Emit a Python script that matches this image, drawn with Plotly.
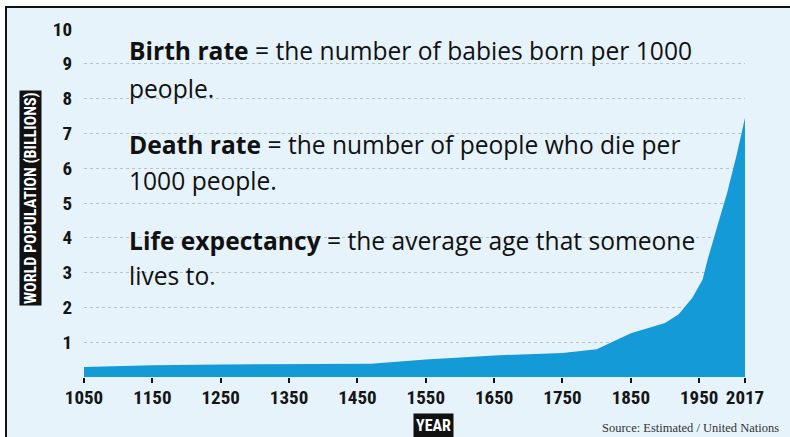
import plotly.graph_objects as go

# World population estimates (billions) by year
years = [1050, 1150, 1250, 1350, 1450, 1470, 1550, 1650, 1750, 1800,
         1850, 1900, 1920, 1940, 1955, 1962, 1976, 1991, 2005, 2017]
population = [0.29, 0.34, 0.36, 0.37, 0.37, 0.38, 0.50, 0.62, 0.69, 0.80,
              1.26, 1.55, 1.80, 2.28, 2.80, 3.35, 4.30, 5.30, 6.40, 7.45]

x_ticks = [1050, 1150, 1250, 1350, 1450, 1550, 1650, 1750, 1850, 1950, 2017]
y_ticks = [1, 2, 3, 4, 5, 6, 7, 8, 9, 10]

definitions = [
    ("<b>Birth rate</b> = the number of babies born per 1000", 51),
    ("people.", 88),
    ("<b>Death rate</b> = the number of people who die per", 144),
    ("1000 people.", 180),
    ("<b>Life expectancy</b> = the average age that someone", 240),
    ("lives to.", 275),
]

W, H = 790, 437
L, R, T, B = 84, 45, 29, 60
PW, PH = W - L - R, H - T - B

def px_x(px):
    return (px - L) / PW

def px_y(py):
    return (H - B - py) / PH

BG = "#e6f3fb"
AREA = "#159ad8"
COND = "Liberation Sans Narrow, Roboto Condensed, DejaVu Sans Condensed, Roboto, sans-serif"

fig = go.Figure()
fig.add_trace(go.Scatter(
    x=years, y=population, mode="lines", fill="tozeroy",
    line=dict(width=0, color=AREA), fillcolor=AREA, hoverinfo="skip",
    showlegend=False,
))

shapes = [
    dict(type="rect", xref="paper", yref="paper", layer="below",
         x0=px_x(6), x1=px_x(800), y0=px_y(445), y1=px_y(7),
         fillcolor=BG, line=dict(color="#111111", width=2)),
]

annotations = []
for text, cy in definitions:
    annotations.append(dict(
        text=text, xref="paper", yref="paper", x=px_x(127), y=px_y(cy),
        xanchor="left", yanchor="middle", showarrow=False,
        font=dict(family="Open Sans, Noto Sans, sans-serif", size=24.6, color="#111111"),
    ))

annotations.append(dict(
    text="<b>WORLD POPULATION (BILLIONS)</b>", textangle=-90,
    xref="paper", yref="paper", x=px_x(30), y=px_y(198),
    xanchor="center", yanchor="middle", showarrow=False,
    bgcolor="#111111", borderpad=1,
    font=dict(family=COND, size=16, color="white"),
))
annotations.append(dict(
    text="<b>YEAR</b>", xref="paper", yref="paper", x=px_x(433), y=px_y(425),
    xanchor="center", yanchor="middle", showarrow=False,
    bgcolor="#111111", borderpad=2,
    font=dict(family=COND, size=16, color="white"),
))
annotations.append(dict(
    text="Source: Estimated / United Nations", xref="paper", yref="paper",
    x=px_x(781), y=px_y(428), xanchor="right", yanchor="middle", showarrow=False,
    font=dict(family="Liberation Serif, serif", size=12.5, color="#333333"),
))

fig.update_layout(
    width=W, height=H,
    margin=dict(l=L, r=R, t=T, b=B, pad=0),
    paper_bgcolor="white", plot_bgcolor="rgba(0,0,0,0)",
    shapes=shapes, annotations=annotations,
    xaxis=dict(
        range=[1050, 2017], tickvals=x_ticks, ticktext=[str(v) for v in x_ticks],
        ticks="outside", ticklen=5, tickwidth=2, tickcolor="#111111",
        showgrid=False, zeroline=False, showline=False, ticklabelstandoff=-2,
        tickfont=dict(family=COND, size=19, color="#151515", weight="bold"),
    ),
    yaxis=dict(
        range=[0, 10], tickvals=y_ticks,
        showgrid=True, gridcolor="#b9c3c9", griddash="dot", gridwidth=1,
        zeroline=False, showline=False, ticks="", ticklabelstandoff=11,
        tickfont=dict(family=COND, size=19, color="#151515", weight="bold"),
    ),
)

fig.write_html("out.html")
